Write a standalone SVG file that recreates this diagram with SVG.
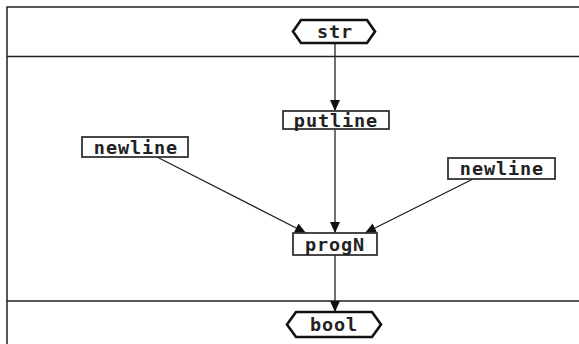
<svg xmlns="http://www.w3.org/2000/svg" width="579" height="344" viewBox="0 0 579 344">
<style>
.frame{stroke:#222;stroke-width:1.5;fill:none}
.box{fill:#fff;stroke:#333;stroke-width:1.8}
.hex{fill:#fff;stroke:#111;stroke-width:2.6}
.lbl{font-family:"DejaVu Sans Mono",monospace;font-weight:bold;font-size:18.5px;letter-spacing:0.9px;fill:#222;text-anchor:middle}
.edge{stroke:#222;stroke-width:1.3;fill:none}
</style>
<defs>
<marker id="ah" markerWidth="12" markerHeight="12" refX="11" refY="5" orient="auto" markerUnits="userSpaceOnUse">
<path d="M0,0 L11,5 L0,10 Z" fill="#111"/>
</marker>
</defs>
<rect width="579" height="344" fill="#fff"/>
<g id="frame">
<path class="frame" d="M7,344 L7,7 L579,7 M7,56.5 L579,56.5 M7,301 L579,301"/>
</g>
<g id="connectors">
<line class="edge" x1="335" y1="43" x2="335" y2="111" marker-end="url(#ah)"/>
<line class="edge" x1="335" y1="129" x2="335" y2="233" marker-end="url(#ah)"/>
<line class="edge" x1="157" y1="157" x2="306" y2="233" marker-end="url(#ah)"/>
<line class="edge" x1="473" y1="179" x2="365" y2="233" marker-end="url(#ah)"/>
<line class="edge" x1="335" y1="255" x2="335" y2="312" marker-end="url(#ah)"/>
</g>
<g id="str">
<polygon class="hex" points="293,31.5 301,20 367,20 375,31.5 367,43 301,43"/>
<text class="lbl" x="335" y="38">str</text>
</g>
<g id="putline">
<rect class="box" x="283" y="111" width="106" height="18"/>
<text class="lbl" x="336" y="127">putline</text>
</g>
<g id="newline1">
<rect class="box" x="82" y="137" width="106" height="20"/>
<text class="lbl" x="136" y="153.5">newline</text>
</g>
<g id="newline2">
<rect class="box" x="448" y="158" width="107" height="21"/>
<text class="lbl" x="502" y="175">newline</text>
</g>
<g id="progN">
<rect class="box" x="293" y="233" width="84" height="22"/>
<text class="lbl" x="335" y="251">progN</text>
</g>
<g id="bool">
<polygon class="hex" points="287,324.5 296,312 372,312 381,324.5 372,337 296,337"/>
<text class="lbl" x="334" y="331">bool</text>
</g>
</svg>
